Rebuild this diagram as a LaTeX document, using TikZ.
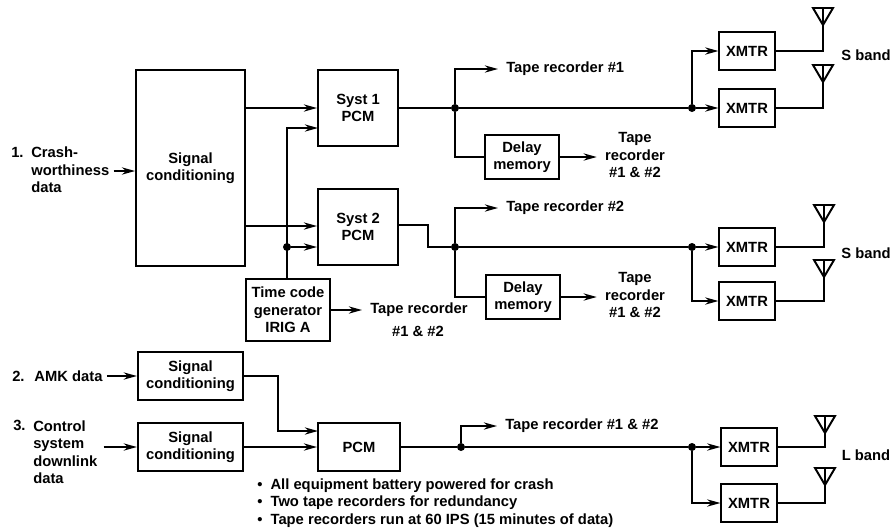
\documentclass[tikz,border=0pt]{standalone}
\usepackage{fontspec}
\setmainfont{Liberation Sans}
\usetikzlibrary{arrows.meta}

\begin{document}
\begin{tikzpicture}[
        x=0.025cm, y=-0.025cm,
        block/.style={rectangle, draw=black, line width=1.4pt, text centered, align=center, inner sep=0pt, font=\bfseries\fontsize{10.5}{12.4}\selectfont},
        bigbox/.style={block, minimum width=2.72cm, minimum height=4.9cm},
        pcmbox/.style={block, minimum width=2cm, minimum height=1.9cm},
        condbox/.style={block, minimum width=2.63cm, minimum height=1.18cm},
        delaybox/.style={block, minimum width=1.85cm, minimum height=1.12cm},
        xmtr/.style={block, minimum width=1.38cm, minimum height=0.96cm},
        txt/.style={align=center, inner sep=0pt, font=\bfseries\fontsize{10.5}{12.4}\selectfont},
        txtl/.style={txt, align=left, anchor=west},
        dot/.style={circle, fill=black, inner sep=0pt, minimum size=0.2cm},
        wire/.style={line width=1.4pt},
        arr/.style={wire, -{Stealth[length=0.33cm, width=0.18cm]}}
    ]
        \useasboundingbox (0,0) rectangle (895,529);

        % Nodes
        \node (sigbig) at (190.5,168) [bigbox] {Signal\\conditioning};
        \node (syst1) at (358,108) [pcmbox] {Syst 1\\PCM};
        \node (syst2) at (358,227) [pcmbox] {Syst 2\\PCM};
        \node (tcode) at (288,310) [block, minimum width=2.1cm, minimum height=1.53cm] {Time code\\generator\\IRIG A};
        \node (sigamk) at (190.5,376) [condbox] {Signal\\conditioning};
        \node (sigctl) at (190.5,447) [condbox] {Signal\\conditioning};
        \node (pcm) at (359,447) [block, minimum width=2.05cm, minimum height=1.18cm] {PCM};
        \node (delay1) at (522,157) [delaybox] {Delay\\memory};
        \node (delay2) at (523,297) [delaybox] {Delay\\memory};
        \node (xmtr1) at (747,51) [xmtr] {XMTR};
        \node (xmtr2) at (747,108) [xmtr] {XMTR};
        \node (xmtr3) at (747,247) [xmtr] {XMTR};
        \node (xmtr4) at (747,301) [xmtr] {XMTR};
        \node (xmtr5) at (749,447) [xmtr] {XMTR};
        \node (xmtr6) at (749,503) [xmtr] {XMTR};

        % Junctions
        \node (j1) at (455,108) [dot] {};
        \node (j2) at (692,108) [dot] {};
        \node (j3) at (455,247) [dot] {};
        \node (j4) at (692,247) [dot] {};
        \node (j5) at (461,447) [dot] {};
        \node (j6) at (692,447) [dot] {};
        \node (jt) at (287,247) [dot] {};
        \coordinate (bend2) at (428,236);
        \coordinate (tcin) at (318,128);
        \coordinate (amkbend) at (278,431);
        \coordinate (amkin) at (318,431);

        % Labels
        \node at (11,152) [txtl] (num1) {1.};
        \node at (31,170) [txtl] (crash) {Crash-\\worthiness\\data};
        \node at (12,376) [txtl] (amk) {2.\hspace{0.3em} AMK data};
        \node at (13,425) [txtl] (num3) {3.};
        \node at (33,452) [txtl] (ctl) {Control\\system\\downlink\\data};
        \node at (506,69) [txtl] (tr1) {Tape recorder \#1};
        \node at (506,208) [txtl] (tr2) {Tape recorder \#2};
        \node at (505,426) [txtl] (tr3) {Tape recorder \#1 \& \#2};
        \node at (635,155) [txt] (tr4) {Tape\\recorder\\\#1 \& \#2};
        \node at (635,295) [txt] (tr5) {Tape\\recorder\\\#1 \& \#2};
        \node at (370,310) [txtl] (tr6) {Tape recorder};
        \node at (418,331) [txt] (tr7) {\#1 \& \#2};
        \node at (866,55) [txt] (sband1) {S band};
        \node at (866,253) [txt] (sband2) {S band};
        \node at (866,455) [txt] (lband) {L band};
        \node at (257,503) [txtl] (notes) {\textbullet\hspace{0.55em}All equipment battery powered for crash\\\textbullet\hspace{0.55em}Two tape recorders for redundancy\\\textbullet\hspace{0.55em}Tape recorders run at 60 IPS (15 minutes of data)};

        % Antennas
        \foreach \nm/\ax/\ay in {1/823/25, 2/823/82, 3/824/222, 4/824/277, 5/825/433, 6/825/485} {
            \draw[wire] (\ax-10,\ay-17) -- (\ax+10,\ay-17) -- (\ax,\ay) -- cycle (\ax,\ay-17) -- (\ax,\ay);
            \coordinate (ant\nm) at (\ax,\ay);
        }

        % Arrows
        \draw[arr] ([xshift=0.1cm]crash.east |- 0,171) -- (sigbig.west |- 0,171);
        \draw[arr] ([xshift=0.1cm]amk.east) -- (sigamk);
        \draw[arr] ([xshift=0.15cm]ctl.east |- sigctl) -- (sigctl);
        \draw[arr] (sigbig.east |- syst1) -- (syst1);
        \draw[arr] (sigbig.east |- 0,226) -- (syst2.west |- 0,226);
        \draw[arr] (tcode.north -| jt) |- (tcin);
        \draw[arr] (jt) -- (syst2.west |- jt);
        \draw[arr] (tcode) -- ([xshift=-0.2cm]tr6.west);
        \draw[arr] (sigamk) -| (amkbend) -- (amkin);
        \draw[arr] (sigctl) -- (pcm);

        \draw[wire] (syst1) -- (j1) -- (j2);
        \draw[arr] (j2) -- (xmtr2);
        \draw[arr] (j2) |- (xmtr1);
        \draw[arr] (j1) |- ([xshift=-0.2cm]tr1.west);
        \draw[wire] (j1) |- (delay1);
        \draw[arr] (delay1) -- ([xshift=-0.2cm]tr4.west |- delay1);

        \draw[wire] (syst2.east |- 0,225) -| (bend2) |- (j3);
        \draw[wire] (j3) -- (j4);
        \draw[arr] (j4) -- (xmtr3);
        \draw[arr] (j4) |- (xmtr4);
        \draw[arr] (j3) |- ([xshift=-0.2cm]tr2.west);
        \draw[wire] (j3) |- (delay2);
        \draw[arr] (delay2) -- ([xshift=-0.2cm]tr5.west |- delay2);

        \draw[wire] (pcm) -- (j5) -- (j6);
        \draw[arr] (j6) -- (xmtr5);
        \draw[arr] (j6) |- (xmtr6);
        \draw[arr] (j5) |- ([xshift=-0.2cm]tr3.west);

        \foreach \nm in {1,...,6} {
            \draw[wire] (xmtr\nm) -| (ant\nm);
        }
    \end{tikzpicture}
\end{document}
